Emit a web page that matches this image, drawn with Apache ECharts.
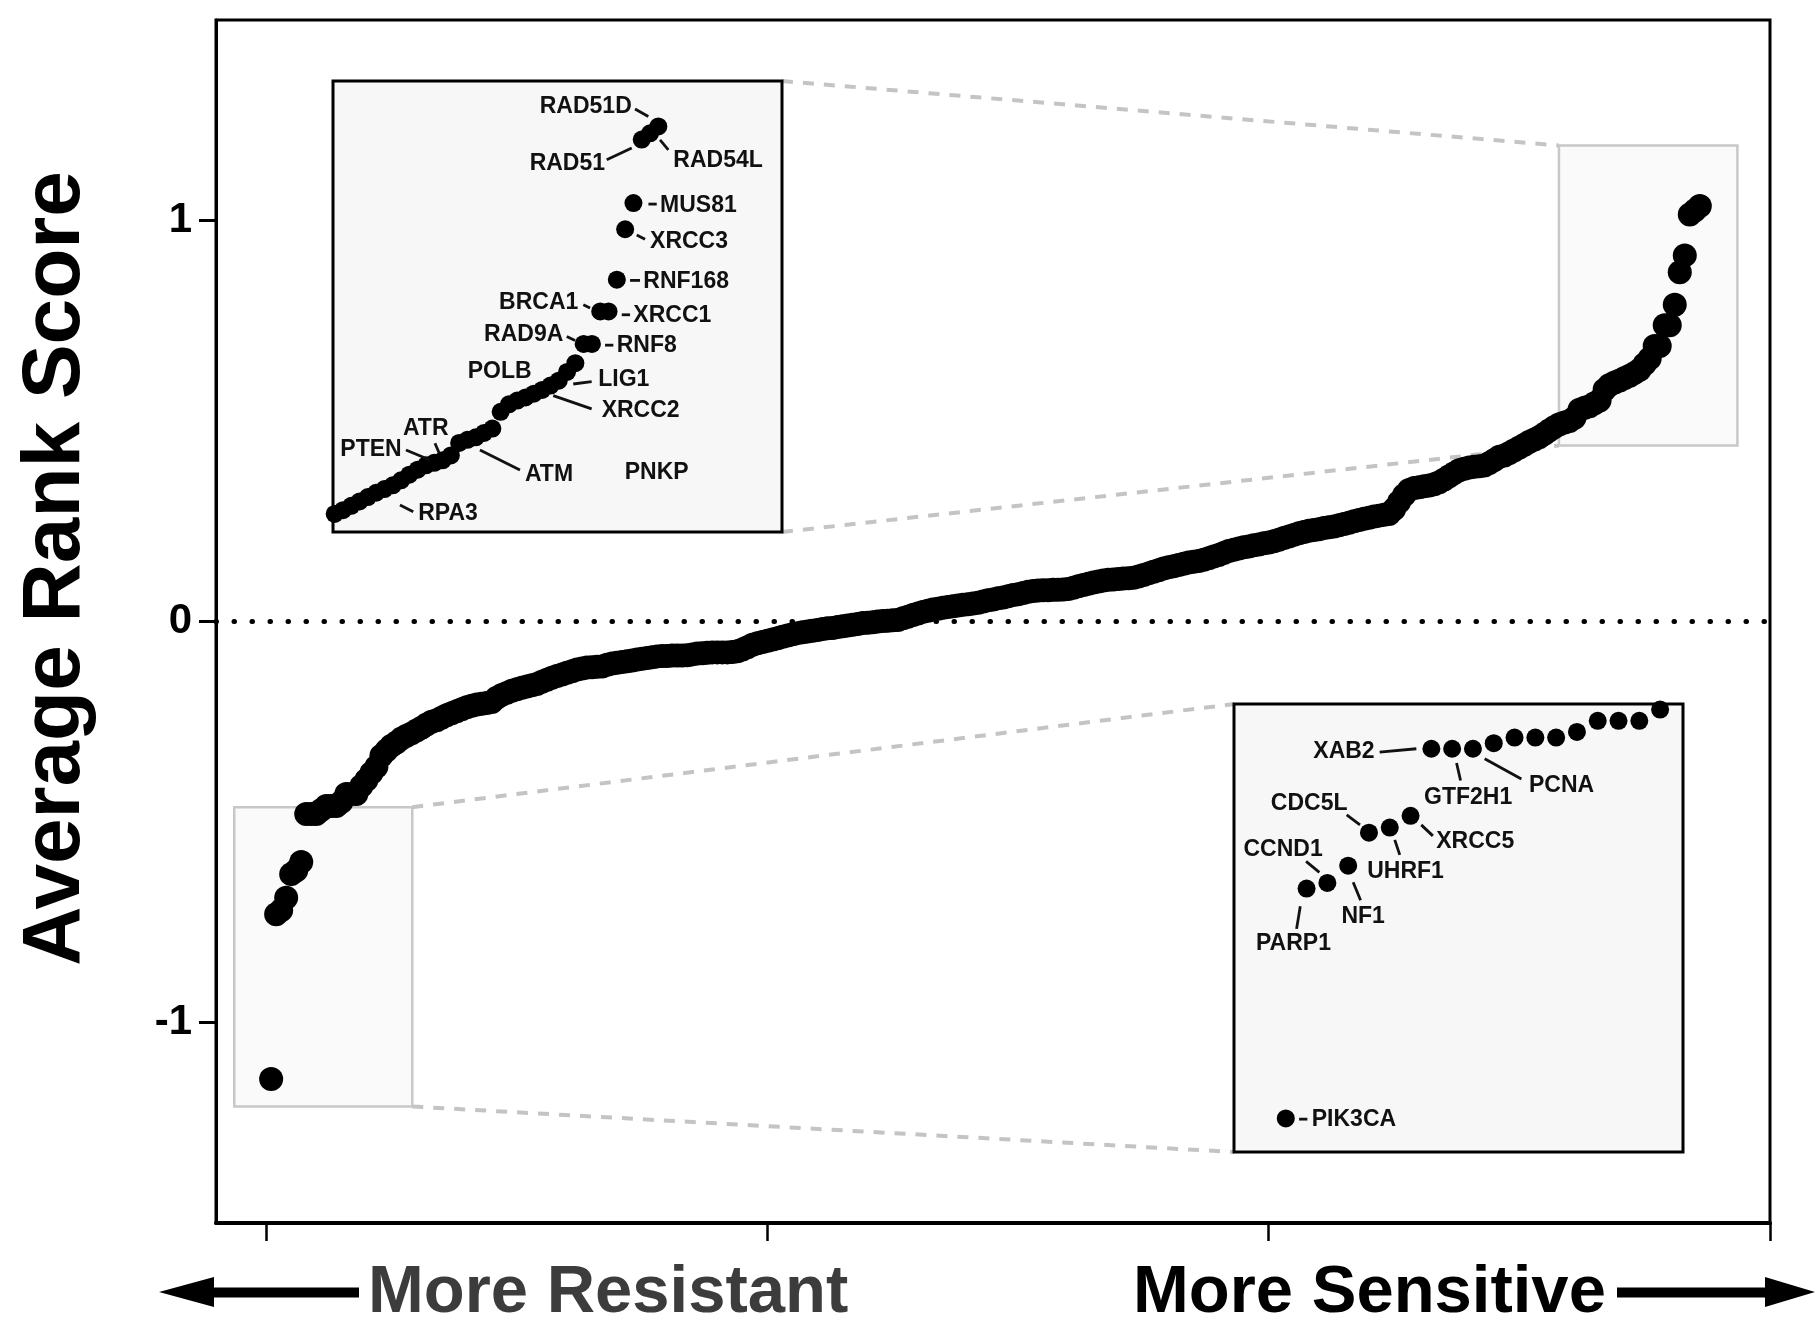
<!DOCTYPE html>
<html>
<head>
<meta charset="utf-8">
<title>Average Rank Score</title>
<script src="https://cdn.jsdelivr.net/npm/echarts@6/dist/echarts.min.js"></script>
<style>
  html, body { margin: 0; padding: 0; background: #fff; }
  #chart { width: 1815px; height: 1323px; }
</style>
</head>
<body>
<div id="chart"></div>
<script>
// Average rank score of each gene, ordered from most resistant (rank 1) to most sensitive (rank 286)
const scores = [
  -1.141, -0.730, -0.720, -0.689, -0.630, -0.621, -0.600, -0.480, -0.480, -0.480,
  -0.470, -0.460, -0.460, -0.460, -0.450, -0.430, -0.430, -0.430, -0.410, -0.395,
  -0.378, -0.362, -0.335, -0.322, -0.310, -0.302, -0.292, -0.285, -0.279, -0.272,
  -0.265, -0.257, -0.250, -0.246, -0.240, -0.234, -0.229, -0.224, -0.219, -0.214,
  -0.210, -0.207, -0.205, -0.203, -0.201, -0.190, -0.183, -0.178, -0.173, -0.169,
  -0.165, -0.162, -0.159, -0.156, -0.150, -0.145, -0.140, -0.136, -0.132, -0.128,
  -0.124, -0.120, -0.117, -0.115, -0.114, -0.113, -0.112, -0.108, -0.105, -0.103,
  -0.101, -0.099, -0.097, -0.095, -0.093, -0.091, -0.089, -0.087, -0.086, -0.086,
  -0.085, -0.085, -0.085, -0.084, -0.082, -0.080, -0.079, -0.078, -0.077, -0.077,
  -0.077, -0.077, -0.076, -0.074, -0.070, -0.064, -0.058, -0.054, -0.051, -0.048,
  -0.045, -0.042, -0.038, -0.035, -0.032, -0.029, -0.027, -0.025, -0.023, -0.021,
  -0.019, -0.017, -0.016, -0.014, -0.012, -0.010, -0.008, -0.006, -0.004, -0.003,
  -0.002, 0.000, 0.001, 0.002, 0.003, 0.004, 0.008, 0.012, 0.016, 0.020,
  0.024, 0.027, 0.030, 0.032, 0.034, 0.036, 0.038, 0.040, 0.042, 0.043,
  0.045, 0.047, 0.050, 0.053, 0.055, 0.058, 0.060, 0.063, 0.066, 0.068,
  0.071, 0.074, 0.076, 0.077, 0.078, 0.078, 0.079, 0.079, 0.080, 0.081,
  0.084, 0.088, 0.091, 0.094, 0.097, 0.100, 0.102, 0.104, 0.105, 0.106,
  0.107, 0.108, 0.109, 0.112, 0.116, 0.120, 0.124, 0.128, 0.132, 0.135,
  0.138, 0.141, 0.144, 0.147, 0.149, 0.151, 0.154, 0.158, 0.162, 0.166,
  0.171, 0.176, 0.179, 0.182, 0.185, 0.187, 0.190, 0.192, 0.195, 0.197,
  0.200, 0.204, 0.208, 0.212, 0.216, 0.220, 0.223, 0.226, 0.228, 0.230,
  0.233, 0.235, 0.237, 0.240, 0.243, 0.246, 0.250, 0.253, 0.256, 0.259,
  0.262, 0.264, 0.266, 0.268, 0.280, 0.298, 0.315, 0.328, 0.333, 0.335,
  0.337, 0.339, 0.342, 0.347, 0.354, 0.362, 0.370, 0.377, 0.381, 0.384,
  0.386, 0.387, 0.389, 0.395, 0.403, 0.411, 0.414, 0.420, 0.427, 0.434,
  0.441, 0.448, 0.454, 0.460, 0.468, 0.477, 0.485, 0.492, 0.496, 0.500,
  0.508, 0.528, 0.533, 0.537, 0.544, 0.551, 0.578, 0.590, 0.596, 0.601,
  0.607, 0.613, 0.620, 0.628, 0.642, 0.656, 0.687, 0.687, 0.739, 0.739,
  0.790, 0.871, 0.913, 1.015, 1.025, 1.036
];

// Named genes in the two magnified panels, with their rank
const sensitiveGenes = ['RAD51D', 'RAD54L', 'RAD51', 'MUS81', 'XRCC3', 'RNF168', 'XRCC1', 'BRCA1',
  'RNF8', 'RAD9A', 'POLB', 'LIG1', 'XRCC2', 'ATM', 'ATR', 'PTEN', 'RPA3'];
const sensitiveRanks = [286, 285, 284, 283, 282, 281, 280, 279, 278, 277, 276, 275, 272, 264, 260, 259, 254];
const resistantGenes = ['PIK3CA', 'PARP1', 'CCND1', 'NF1', 'CDC5L', 'UHRF1', 'XRCC5', 'XAB2', 'GTF2H1', 'PCNA'];
const resistantRanks = [1, 2, 3, 4, 5, 6, 7, 8, 9, 10];
const looseNote = 'PNKP';

// Axis ticks
const xTicks = [0, 100, 200, 300];
const yTicks = [-1, 0, 1];
const yTitle = 'Average Rank Score';
const leftCaption = 'More Resistant';
const rightCaption = 'More Sensitive';

// Rank spans shown in the magnified panels
const highRanks = [247, 286];
const lowRanks = [1, 19];

// ---- layout ----
const FONT = '"Liberation Sans", Arial, Helvetica, sans-serif';
const highView = { x: [246.8, 300.9], y: [0.385, 1.109] };   // upper-left panel extent
const lowView = { x: [-1.49, 20.1], y: [-1.201, -0.40] };    // lower-right panel extent
const highWindow = { x: [257.9, 293.5], y: [0.439, 1.187] }; // highlighted region on the main plot
const lowWindow = { x: [-6.36, 29.15], y: [-1.2095, -0.463] };

// Callout placement relative to the dot (pixels): text anchor and leader segment
const calloutLayout = {
  RAD51D: { text: [-26.6, -19.4], align: 'right', line: [-23.3, -17.4, -10, -10] },
  RAD54L: { text: [23.3, 27.5], align: 'left', line: [10, 6.5, 18.3, 16.5] },
  RAD51:  { text: [-36.7, 24.2], align: 'right', line: [-35, 20.2, -10, 8.5] },
  MUS81:  { text: [26.6, 2.7], align: 'left', line: [15, 1, 23.3, 1] },
  XRCC3:  { text: [24.9, 12.4], align: 'left', line: [11.6, 5.7, 19.9, 10] },
  RNF168: { text: [26.5, 1.7], align: 'left', line: [13.2, 0.7, 23.2, 0.7] },
  XRCC1:  { text: [24.8, 4.3], align: 'left', line: [13.2, 3.3, 21.5, 3.3] },
  BRCA1:  { text: [-21.9, -9], align: 'right', line: [-16.9, -6.7, -10.2, -3.4] },
  RNF8:   { text: [24.8, 2], align: 'left', line: [13.1, 1.3, 21.4, 1.3] },
  RAD9A:  { text: [-20.3, -9], align: 'right', line: [-16.9, -7.3, -8.6, -3.3] },
  POLB:   { text: [-43.7, 8.5], align: 'right', line: null },
  LIG1:   { text: [31.2, 7.4], align: 'left', line: [6.2, 12.1, 24.6, 9.8] },
  XRCC2:  { text: [59.5, 20.6], align: 'left', line: [11.1, 5.6, 49.5, 18.9] },
  ATM:    { text: [49.2, 37.6], align: 'left', line: [4.2, 12.6, 44.2, 32.6] },
  ATR:    { text: [-16.8, -32.1], align: 'center', line: [-7.6, -17.1, -3.3, -7.1] },
  PTEN:   { text: [-32.6, -12.9], align: 'right', line: [-28.3, -12.9, -4.3, -2.9] },
  RPA3:   { text: [25.5, 28], align: 'left', line: [7.2, 19.7, 20.5, 26.4] },
  PIK3CA: { text: [26, 1.7], align: 'left', line: [13.3, 0.7, 21.6, 0.7] },
  PARP1:  { text: [-13.1, 55], align: 'center', line: [-6.3, 17.7, -10, 40.3] },
  CCND1:  { text: [-44.3, -33.3], align: 'center', line: [-21.3, -21.6, -8, -10.6] },
  NF1:    { text: [15, 50.7], align: 'center', line: [5, 16.7, 12.4, 34.7] },
  CDC5L:  { text: [-59.8, -29.4], align: 'center', line: [-22.3, -17.7, -9, -7.7] },
  UHRF1:  { text: [15.8, 44], align: 'center', line: [5, 12.3, 10, 27.3] },
  XRCC5:  { text: [25.7, 25.7], align: 'left', line: [10.7, 9, 22.3, 20] },
  XAB2:   { text: [-56.7, 3.3], align: 'right', line: [-51.7, 3.3, -15, 0] },
  GTF2H1: { text: [16, 49.3], align: 'center', line: [4.4, 14.3, 8.4, 31.7] },
  PCNA:   { text: [56, 36.7], align: 'left', line: [11.7, 10, 48.4, 30.3] }
};
const looseNoteAt = [285.8, 0.480];

const points = scores.map((v, i) => [i + 1, v]);
const highPoints = points.slice(highRanks[0] - 1, highRanks[1]);
const lowPoints = points.slice(lowRanks[0] - 1, lowRanks[1]);

const chart = echarts.init(document.getElementById('chart'), null, { renderer: 'canvas' });

const hiddenAxis = (gridIndex, range) => ({
  type: 'value', gridIndex, min: range[0], max: range[1], show: false
});

const insetGrid = (left, top, width, height) => ({
  left, top, width, height, show: true, backgroundColor: '#f7f7f7',
  borderColor: '#000', borderWidth: 3, z: 3
});

const option = {
  animation: false,
  backgroundColor: '#fff',
  grid: [
    { left: 216, top: 20, right: 45, bottom: 100, show: true, borderColor: '#000', borderWidth: 3 },
    insetGrid(333, 81, 449, 451),
    insetGrid(1234, 704, 449, 448)
  ],
  xAxis: [
    {
      type: 'value', gridIndex: 0, min: -10, max: 300,
      axisLine: { show: true, onZero: false, lineStyle: { color: '#000', width: 4 } },
      axisTick: { show: true, customValues: xTicks, length: 18, lineStyle: { color: '#000', width: 2.5 } },
      axisLabel: { show: false },
      splitLine: { show: false }
    },
    hiddenAxis(1, highView.x),
    hiddenAxis(2, lowView.x)
  ],
  yAxis: [
    {
      type: 'value', gridIndex: 0, min: -1.5, max: 1.5,
      axisLine: { show: true, onZero: false, lineStyle: { color: '#000', width: 3 } },
      axisTick: { show: true, customValues: yTicks, length: 17, lineStyle: { color: '#000', width: 3 } },
      axisLabel: {
        show: true, customValues: yTicks, margin: 24, color: '#000',
        fontSize: 42, fontWeight: 'bold', fontFamily: FONT
      },
      splitLine: { show: false }
    },
    hiddenAxis(1, highView.y),
    hiddenAxis(2, lowView.y)
  ],
  series: [
    {
      // zero reference line and the two highlighted windows
      type: 'scatter', xAxisIndex: 0, yAxisIndex: 0, data: [], z: 1, silent: true,
      markArea: {
        silent: true,
        itemStyle: { color: '#fafafa', borderColor: '#c8c8c8', borderWidth: 2.5 },
        data: [
          [{ coord: [lowWindow.x[0], lowWindow.y[1]] }, { coord: [lowWindow.x[1], lowWindow.y[0]] }],
          [{ coord: [highWindow.x[0], highWindow.y[1]] }, { coord: [highWindow.x[1], highWindow.y[0]] }]
        ]
      },
      markLine: {
        silent: true, symbol: ['none', 'none'], label: { show: false },
        lineStyle: { color: '#000', width: 5, type: [0.5, 17.5], cap: 'round' },
        data: [{ yAxis: 0 }]
      }
    },
    {
      name: 'All genes', type: 'scatter', xAxisIndex: 0, yAxisIndex: 0,
      data: points, symbolSize: 24, itemStyle: { color: '#000', opacity: 1 }, z: 5, silent: true
    },
    {
      name: 'Most sensitive', type: 'scatter', xAxisIndex: 1, yAxisIndex: 1,
      data: highPoints, symbolSize: 18, itemStyle: { color: '#000', opacity: 1 }, z: 6, silent: true
    },
    {
      name: 'Most resistant', type: 'scatter', xAxisIndex: 2, yAxisIndex: 2,
      data: lowPoints, symbolSize: 18, itemStyle: { color: '#000', opacity: 1 }, z: 6, silent: true
    }
  ]
};

chart.setOption(option);

// ---- connectors, callouts and captions, placed from the axes' own scales ----
const toPx = (k, pt) => chart.convertToPixel({ xAxisIndex: k, yAxisIndex: k }, pt);
const graphics = [];

function segment(a, b, style, z) {
  graphics.push({
    type: 'line', z, silent: true,
    shape: { x1: a[0], y1: a[1], x2: b[0], y2: b[1] },
    style
  });
}

const dashStyle = { stroke: '#c4c4c4', lineWidth: 4, lineDash: [11, 10] };
segment(toPx(1, [highView.x[1], highView.y[1]]), toPx(0, [highWindow.x[0], highWindow.y[1]]), dashStyle, 1);
segment(toPx(1, [highView.x[1], highView.y[0]]), toPx(0, [highWindow.x[0], highWindow.y[0]]), dashStyle, 1);
segment(toPx(0, [lowWindow.x[1], lowWindow.y[1]]), toPx(2, [lowView.x[0], lowView.y[1]]), dashStyle, 1);
segment(toPx(0, [lowWindow.x[1], lowWindow.y[0]]), toPx(2, [lowView.x[0], lowView.y[0]]), dashStyle, 1);

function labelText(text, x, y, align, extra) {
  graphics.push(Object.assign({
    type: 'text', z: 20, silent: true, x, y,
    style: {
      text, fill: '#111', fontSize: 23, fontWeight: 'bold', fontFamily: FONT,
      align, verticalAlign: 'middle'
    }
  }, extra || {}));
}

function callouts(k, genes, ranks) {
  genes.forEach((name, j) => {
    const r = ranks[j];
    const p = toPx(k, [r, scores[r - 1]]);
    const L = calloutLayout[name];
    if (L.line) {
      segment([p[0] + L.line[0], p[1] + L.line[1]], [p[0] + L.line[2], p[1] + L.line[3]],
        { stroke: '#111', lineWidth: 2.8 }, 20);
    }
    labelText(name, p[0] + L.text[0], p[1] + L.text[1], L.align);
  });
}
callouts(1, sensitiveGenes, sensitiveRanks);
callouts(2, resistantGenes, resistantRanks);

const notePx = toPx(1, looseNoteAt);
labelText(looseNote, notePx[0], notePx[1], 'center');

// y-axis title
graphics.push({
  type: 'text', z: 20, silent: true, x: 56.5, y: 568.5, rotation: Math.PI / 2,
  style: {
    text: yTitle, fill: '#000', fontSize: 82, fontWeight: 'bold', fontFamily: FONT,
    align: 'center', verticalAlign: 'middle'
  }
});

// direction captions with arrows under the x axis
graphics.push({
  type: 'text', z: 20, silent: true, x: 368, y: 1294,
  style: { text: leftCaption, fill: '#3c3c3c', fontSize: 67, fontWeight: 'bold', fontFamily: FONT,
    align: 'left', verticalAlign: 'middle' }
});
graphics.push({
  type: 'text', z: 20, silent: true, x: 1133, y: 1294,
  style: { text: rightCaption, fill: '#000', fontSize: 67, fontWeight: 'bold', fontFamily: FONT,
    align: 'left', verticalAlign: 'middle' }
});
graphics.push({
  type: 'polygon', z: 20, silent: true,
  shape: { points: [[159, 1292], [214, 1277], [214, 1287.5], [359, 1287.5], [359, 1297.5], [214, 1297.5], [214, 1307]] },
  style: { fill: '#000' }
});
graphics.push({
  type: 'polygon', z: 20, silent: true,
  shape: { points: [[1815, 1292], [1765, 1277], [1765, 1287.5], [1617, 1287.5], [1617, 1297.5], [1765, 1297.5], [1765, 1307]] },
  style: { fill: '#000' }
});

chart.setOption({ graphic: { elements: graphics } });
</script>
</body>
</html>
